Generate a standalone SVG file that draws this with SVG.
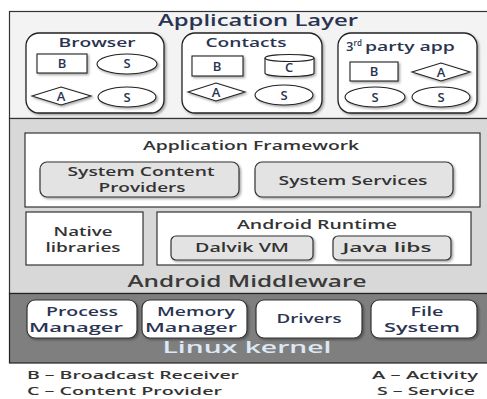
<svg xmlns="http://www.w3.org/2000/svg" width="487" height="399" viewBox="0 0 487 399">
<defs>
<filter id="sh" x="-20%" y="-20%" width="150%" height="160%">
<feDropShadow dx="1.5" dy="1.5" stdDeviation="1" flood-color="#000" flood-opacity="0.35"/>
</filter>
<style>
text{font-family:"Open Sans","DejaVu Sans",sans-serif;text-anchor:middle;font-weight:600;}
.t{fill:#2a3452;font-size:13px;}
.k{fill:#2a3452;font-size:12px;}
.h{fill:#2a3452;font-size:17px;}
.m{fill:#333;font-size:12px;}
.app{fill:#fff;stroke:#222;stroke-width:1.3;filter:url(#sh);}
.sym{fill:#fff;stroke:#222;stroke-width:1.1;filter:url(#sh);}
.wbox{fill:#fff;stroke:#333;stroke-width:1.2;}
.gbox{fill:#e3e3e3;stroke:#333;stroke-width:1.2;filter:url(#sh);}
.kbox{fill:#fff;stroke:#333;stroke-width:1.2;filter:url(#sh);}
.sl{font-size:13px;fill:#2a3452;}
.leg{fill:#333;font-size:11.5px;text-anchor:start;}
</style>
</defs>
<rect width="487" height="399" fill="#fff"/>
<g id="layers">
<rect x="9.5" y="11.5" width="480" height="107" fill="#f3f3f3" stroke="#333" stroke-width="1.2"/>
<rect x="9.5" y="118.5" width="480" height="175" fill="#d8d8d8" stroke="#333" stroke-width="1.2"/>
<rect x="9.5" y="293.5" width="480" height="69.5" fill="#7f7f7f" stroke="#222" stroke-width="1.2"/>
</g>
<text class="h" x="258" y="26" textLength="200" lengthAdjust="spacingAndGlyphs">Application Layer</text>
<g id="browser">
<rect class="app" x="26" y="33" width="138" height="80" rx="13"/>
<text class="t" x="97" y="47" textLength="77" lengthAdjust="spacingAndGlyphs">Browser</text>
<rect class="sym" x="37" y="54" width="50" height="19"/>
<text class="sl" x="62" y="68">B</text>
<ellipse class="sym" cx="127" cy="64" rx="30" ry="10"/>
<text class="sl" x="127" y="68">S</text>
<polygon class="sym" points="32,96 61,87 91,96 61,105"/>
<text class="sl" x="61" y="101">A</text>
<ellipse class="sym" cx="127" cy="97" rx="29" ry="10"/>
<text class="sl" x="127" y="102">S</text>
</g>
<g id="contacts">
<rect class="app" x="182" y="33" width="140" height="80" rx="13"/>
<text class="t" x="246" y="47" textLength="81" lengthAdjust="spacingAndGlyphs">Contacts</text>
<rect class="sym" x="192" y="56" width="51" height="20"/>
<text class="sl" x="217" y="71">B</text>
<path class="sym" d="M265,58 A24.5,3.5 0 0 1 314,58 L314,73 A24.5,3.5 0 0 1 265,73 Z"/>
<path d="M265,58 A24.5,3.5 0 0 0 314,58" fill="none" stroke="#222" stroke-width="1.1"/>
<text class="sl" x="289" y="72">C</text>
<polygon class="sym" points="188,92 216,83 245,92 216,101"/>
<text class="sl" x="216" y="97">A</text>
<ellipse class="sym" cx="284" cy="95" rx="29" ry="10"/>
<text class="sl" x="284" y="100">S</text>
</g>
<g id="thirdparty">
<rect class="app" x="338" y="33" width="139" height="80" rx="13"/>
<text class="t" x="346" y="51" style="text-anchor:start">3<tspan font-size="8" dy="-5">rd</tspan><tspan dy="5" dx="3" textLength="90" lengthAdjust="spacingAndGlyphs">party app</tspan></text>
<rect class="sym" x="350" y="62" width="48" height="19"/>
<text class="sl" x="374" y="76">B</text>
<polygon class="sym" points="412,72 441,63 470,72 441,81"/>
<text class="sl" x="441" y="77">A</text>
<ellipse class="sym" cx="375" cy="97" rx="30" ry="10"/>
<text class="sl" x="375" y="102">S</text>
<ellipse class="sym" cx="441" cy="97" rx="29" ry="10"/>
<text class="sl" x="441" y="102">S</text>
</g>
<g id="framework">
<rect class="wbox" x="25" y="133" width="455" height="74"/>
<text class="m" x="251" y="150" textLength="216" lengthAdjust="spacingAndGlyphs">Application Framework</text>
</g>
<g id="contentproviders">
<rect class="gbox" x="40" y="162" width="199" height="35" rx="7"/>
<text class="m" x="141" y="175.5" textLength="147" lengthAdjust="spacingAndGlyphs">System Content</text>
<text class="m" x="142" y="192" textLength="87" lengthAdjust="spacingAndGlyphs">Providers</text>
</g>
<g id="services">
<rect class="gbox" x="255" y="162" width="198" height="35" rx="7"/>
<text class="m" x="353" y="185" textLength="149" lengthAdjust="spacingAndGlyphs">System Services</text>
</g>
<g id="native">
<rect class="wbox" x="26" y="212" width="117" height="53"/>
<text class="m" x="83" y="235.5" textLength="59" lengthAdjust="spacingAndGlyphs">Native</text>
<text class="m" x="83" y="252" textLength="75" lengthAdjust="spacingAndGlyphs">libraries</text>
</g>
<g id="runtime">
<rect class="wbox" x="157" y="212" width="314" height="53"/>
<text class="m" x="317" y="228.5" textLength="160" lengthAdjust="spacingAndGlyphs">Android Runtime</text>
</g>
<g id="dalvik">
<rect class="gbox" x="171" y="236" width="142" height="24" rx="5"/>
<text class="m" x="242" y="252" textLength="94" lengthAdjust="spacingAndGlyphs">Dalvik VM</text>
</g>
<g id="javalibs">
<rect class="gbox" x="333" y="236" width="118" height="24" rx="5"/>
<text class="m" x="387" y="252" textLength="89" lengthAdjust="spacingAndGlyphs">Java libs</text>
</g>
<text x="247" y="287" font-size="16.5" fill="#3a3a3a" textLength="239" lengthAdjust="spacingAndGlyphs">Android Middleware</text>
<g id="process">
<rect class="kbox" x="27" y="300" width="110" height="38" rx="8"/>
<text class="k" x="82" y="315.5" textLength="72" lengthAdjust="spacingAndGlyphs">Process</text>
<text class="k" x="76" y="332" textLength="94" lengthAdjust="spacingAndGlyphs">Manager</text>
</g>
<g id="memory">
<rect class="kbox" x="142" y="300" width="105" height="38" rx="8"/>
<text class="k" x="196" y="315.5" textLength="78" lengthAdjust="spacingAndGlyphs">Memory</text>
<text class="k" x="191" y="332" textLength="92" lengthAdjust="spacingAndGlyphs">Manager</text>
</g>
<g id="drivers">
<rect class="kbox" x="256" y="300" width="106" height="38" rx="8"/>
<text class="k" x="309" y="323" textLength="65" lengthAdjust="spacingAndGlyphs">Drivers</text>
</g>
<g id="filesystem">
<rect class="kbox" x="371" y="300" width="106" height="38" rx="8"/>
<text class="k" x="427" y="315.5" textLength="33" lengthAdjust="spacingAndGlyphs">File</text>
<text class="k" x="422" y="332" textLength="76" lengthAdjust="spacingAndGlyphs">System</text>
</g>
<text x="247" y="353" font-size="17" fill="#dce8f6" textLength="169" lengthAdjust="spacingAndGlyphs">Linux kernel</text>
<g id="legend">
<text class="leg" x="27" y="379" textLength="212" lengthAdjust="spacingAndGlyphs">B – Broadcast Receiver</text>
<text class="leg" x="27" y="395" textLength="195" lengthAdjust="spacingAndGlyphs">C – Content Provider</text>
<text class="leg" x="372" y="379" textLength="106" lengthAdjust="spacingAndGlyphs">A – Activity</text>
<text class="leg" x="377" y="395" textLength="98" lengthAdjust="spacingAndGlyphs">S – Service</text>
</g>
</svg>
